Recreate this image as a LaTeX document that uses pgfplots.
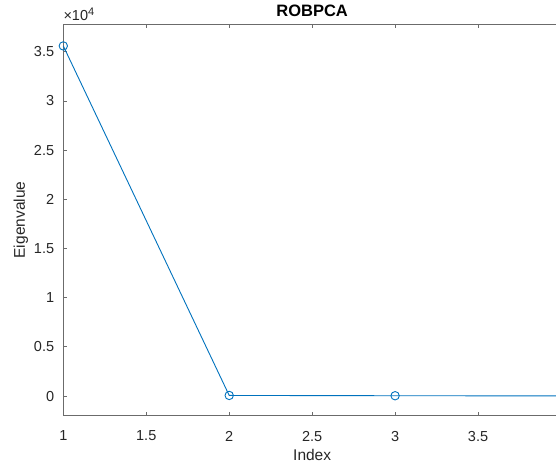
\documentclass[border=0pt]{standalone}
\usepackage{fontspec}
\setmainfont{Liberation Sans}
\usepackage{pgfplots}
\pgfplotsset{compat=1.18}
\definecolor{mblue}{rgb}{0,0.447,0.741}
\definecolor{axgray}{rgb}{0.42,0.42,0.42}
\definecolor{txtgray}{rgb}{0.15,0.15,0.15}
\begin{document}
\begin{tikzpicture}
\begin{axis}[
  scale only axis,
  width=497.7pt, height=391.4pt,
  xmin=1, xmax=4, ymin=-2000, ymax=37800,
  xtick={1,1.5,2,2.5,3,3.5,4},
  xticklabels={1,1.5,2,2.5,3,3.5,4},
  ytick={0,5000,10000,15000,20000,25000,30000,35000},
  yticklabels={0,0.5,1,1.5,2,2.5,3,3.5},
  scaled y ticks=false,
  tick pos=both, tick align=inside,
  major tick length=4pt,
  axis line style={axgray, line width=0.8pt},
  every tick/.style={axgray, line width=0.8pt},
  /pgf/number format/assume math mode=true,
  tick label style={font=\fontsize{14.5}{16}\selectfont, text=txtgray, inner sep=0pt},
  xticklabel style={anchor=north, yshift=-15pt},
  yticklabel style={anchor=east, xshift=-9pt},
  xlabel={Index},
  ylabel={Eigenvalue},
  xlabel style={at={(rel axis cs:0.5,-0.0851)}, anchor=north, inner sep=0pt, font=\fontsize{15.5}{17}\selectfont, text=txtgray},
  ylabel style={at={(rel axis cs:-0.1001,0.5)}, anchor=north, rotate=0, inner sep=0pt, font=\fontsize{15.5}{17}\selectfont, text=txtgray},
  title={ROBPCA},
  every axis title shift=0pt,
  title style={at={(rel axis cs:0.5,1.0194)}, anchor=base, inner sep=0pt, font=\bfseries\fontsize{16.5}{18}\selectfont},
  clip=false,
]
\addplot[mblue, line width=0.9pt, mark=o, mark size=4.2pt, mark options={solid, line width=0.9pt}]
  coordinates {(1,35600) (2,60) (3,30) (4,15)};
\node[anchor=base west, inner sep=0pt, text=txtgray, font=\fontsize{14.5}{16}\selectfont]
  at (rel axis cs:0,1.0092) {×10\textsuperscript{\fontsize{11}{12}\selectfont 4}};
\coordinate (bl) at (rel axis cs:-0.12719,-0.13362);
\coordinate (tr) at (rel axis cs:0.98995,1.06209);
\end{axis}
\pgfresetboundingbox
\useasboundingbox (bl) rectangle (tr);
\end{tikzpicture}
\end{document}
